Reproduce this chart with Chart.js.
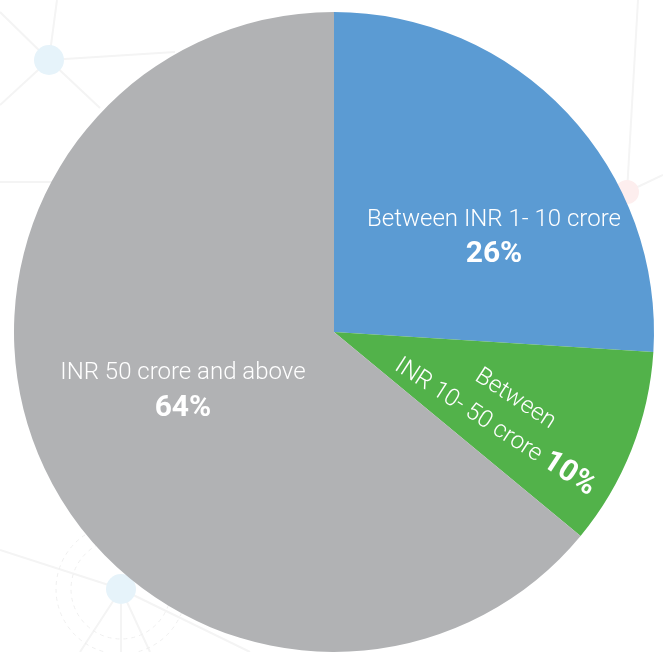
<!DOCTYPE html>
<html>
<head>
<meta charset="utf-8">
<script src="https://cdn.jsdelivr.net/npm/chart.js@4"></script>
<style>
  html, body { margin: 0; padding: 0; background: #fff; }
  #wrap { width: 663px; height: 652px; }
</style>
</head>
<body>
<div id="wrap"><canvas id="chart" width="663" height="652"></canvas></div>
<script>
const categories = ["Between INR 1- 10 crore", "Between INR 10- 50 crore", "INR 50 crore and above"];
const shares = [26, 10, 64];
const sliceColors = ["#5b9bd3", "#52b24a", "#b1b2b4"];

// faint network pattern behind the pie
const backdrop = {
  id: "backdrop",
  beforeDraw(chart) {
    const c = chart.ctx;
    c.save();
    c.strokeStyle = "#f4f4f4";
    c.lineWidth = 2;
    const lines = [
      [49, 60, 57, 0], [49, 60, 0, 12], [49, 60, 175, 52], [49, 60, 0, 105], [49, 60, 100, 108],
      [0, 182, 60, 182], [121, 589, 0, 550], [121, 589, 80, 652], [121, 589, 150, 652],
      [121, 589, 121, 652], [121, 589, 250, 652], [627, 192, 638, 0], [627, 192, 663, 175]
    ];
    lines.forEach(([x1, y1, x2, y2]) => {
      c.beginPath(); c.moveTo(x1, y1); c.lineTo(x2, y2); c.stroke();
    });
    c.setLineDash([4, 4]);
    c.lineWidth = 1;
    c.strokeStyle = "#efefef";
    c.beginPath(); c.arc(121, 589, 65, 0, Math.PI * 2); c.stroke();
    c.beginPath(); c.arc(121, 589, 50, 0, Math.PI * 2); c.stroke();
    c.setLineDash([]);
    c.fillStyle = "#e6f3fa";
    c.beginPath(); c.arc(49, 60, 15, 0, Math.PI * 2); c.fill();
    c.beginPath(); c.arc(121, 589, 15, 0, Math.PI * 2); c.fill();
    c.fillStyle = "#fdeeee";
    c.beginPath(); c.arc(627, 192, 12, 0, Math.PI * 2); c.fill();
    c.restore();
  }
};

const sliceLabels = {
  id: "sliceLabels",
  afterDatasetsDraw(chart) {
    const c = chart.ctx;
    const arcs = chart.getDatasetMeta(0).data;
    const cx = arcs[0].x, cy = arcs[0].y, r = arcs[0].outerRadius;
    const light = "300 24px Roboto, 'DejaVu Sans', sans-serif";
    const bold = "700 30px Roboto, 'DejaVu Sans', sans-serif";
    c.save();
    c.fillStyle = "#ffffff";
    c.textAlign = "center";
    c.textBaseline = "alphabetic";

    // blue slice
    c.font = light;
    c.fillText(categories[0], cx + 0.5 * r, cy - 0.33 * r);
    c.font = bold;
    c.fillText(shares[0] + "%", cx + 0.5 * r, cy - 0.219 * r);

    // grey slice
    c.font = light;
    c.fillText(categories[2], cx - 0.472 * r, cy + 0.148 * r);
    c.font = bold;
    c.fillText(shares[2] + "%", cx - 0.472 * r, cy + 0.262 * r);

    // green slice, rotated text
    c.translate(cx + 0.51 * r, cy + 0.285 * r);
    c.rotate(33 * Math.PI / 180);
    c.font = light;
    c.fillText("Between", 2, -24);
    const part = "INR 10- 50 crore ";
    const pct = shares[1] + "%";
    const w1 = c.measureText(part).width;
    c.font = bold;
    const w2 = c.measureText(pct).width;
    const x0 = -(w1 + w2) / 2;
    c.textAlign = "left";
    c.font = light;
    c.fillText(part, x0, 11);
    c.font = bold;
    c.fillText(pct, x0 + w1, 11);
    c.restore();
  }
};

new Chart(document.getElementById("chart").getContext("2d"), {
  type: "pie",
  data: {
    labels: categories,
    datasets: [{
      data: shares,
      backgroundColor: sliceColors,
      borderWidth: 0
    }]
  },
  options: {
    responsive: false,
    animation: false,
    layout: { padding: { top: 12, bottom: 0, left: 14, right: 9 } },
    plugins: {
      legend: { display: false },
      tooltip: { enabled: false }
    }
  },
  plugins: [backdrop, sliceLabels]
});
</script>
</body>
</html>
